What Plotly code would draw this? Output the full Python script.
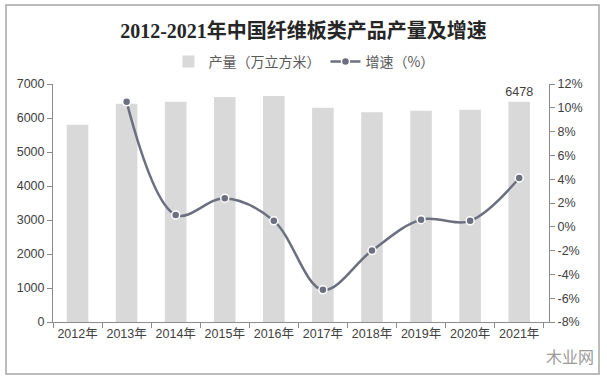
import plotly.graph_objects as go

years = ["2012年", "2013年", "2014年", "2015年", "2016年", "2017年", "2018年", "2019年", "2020年", "2021年"]
output = [5800, 6420, 6480, 6620, 6650, 6300, 6170, 6210, 6240, 6478]
growth_years = years[1:]
growth = [10.5, 1.0, 2.4, 0.5, -5.3, -2.0, 0.6, 0.5, 4.1]
left_ticks = [0, 1000, 2000, 3000, 4000, 5000, 6000, 7000]
right_ticks = [-8, -6, -4, -2, 0, 2, 4, 6, 8, 10, 12]

labels = ["" for _ in output]
labels[-1] = str(output[-1])

tick_font = dict(family="Liberation Sans, Arial, Noto Sans CJK SC", size=12.5, color="#404040")
axis_color = "#8c8c8c"

fig = go.Figure()
fig.add_trace(go.Bar(
    x=years, y=output, name="产量（万立方米）",
    marker=dict(color="#d9d9d9", line=dict(width=0)),
    width=0.44,
    text=labels, textposition="outside", cliponaxis=False, constraintext="none",
    textfont=dict(family="Liberation Sans, Arial", size=12.5, color="#404040"),
    outsidetextfont=dict(family="Liberation Sans, Arial", size=12.5, color="#404040"),
    yaxis="y",
))
fig.add_trace(go.Scatter(
    x=growth_years, y=growth, name="增速（%）",
    mode="lines+markers",
    line=dict(color="#6b6f80", width=2.5, shape="spline", smoothing=1.0),
    marker=dict(size=8, color="#6b6f80", line=dict(color="white", width=1.5)),
    yaxis="y2", cliponaxis=False,
))

fig.update_layout(
    width=607, height=379,
    margin=dict(l=53, r=58, t=84, b=57, autoexpand=False),
    paper_bgcolor="white", plot_bgcolor="white",
    title=dict(
        text="<b>2012-2021年中国纤维板类产品产量及增速</b>",
        x=0.5, xanchor="center", y=1 - 31 / 379, yanchor="middle",
        font=dict(family="Liberation Serif, DejaVu Serif, Noto Sans CJK SC", size=20, color="#262626"),
    ),
    showlegend=True,
    legend=dict(
        orientation="h", x=0.506, xanchor="center", y=(322 - 62) / 238, yanchor="middle",
        font=dict(family="Noto Sans CJK SC, Liberation Sans", size=14, color="#595959"),
        bgcolor="rgba(0,0,0,0)", itemwidth=30, traceorder="normal",
    ),
    xaxis=dict(
        type="category", showgrid=False, showline=True, linecolor=axis_color, linewidth=1,
        ticks="outside", ticklen=5, tickcolor=axis_color, tickson="boundaries",
        tickfont=tick_font, tickangle=0, automargin=False,
    ),
    yaxis=dict(
        range=[0, 7000], tickvals=left_ticks, showgrid=False, zeroline=False,
        showline=True, linecolor=axis_color, linewidth=1, automargin=False,
        ticks="outside", ticklen=5, tickcolor=axis_color, tickfont=tick_font,
    ),
    yaxis2=dict(
        range=[-8, 12], tickvals=right_ticks, ticktext=[f"{v}%" for v in right_ticks],
        overlaying="y", side="right", showgrid=False, zeroline=False,
        showline=True, linecolor=axis_color, linewidth=1, automargin=False,
        ticks="outside", ticklen=5, tickcolor=axis_color, tickfont=tick_font,
    ),
    bargap=0.5,
    shapes=[dict(
        type="rect", xref="paper", yref="paper",
        x0=(6 - 53) / 496, x1=(599 - 53) / 496,
        y0=(322 - 374) / 238, y1=(322 - 5) / 238,
        line=dict(color="#a6a6a6", width=1.5), fillcolor="rgba(0,0,0,0)", layer="above",
    )],
    annotations=[dict(
        text="木业网", xref="paper", yref="paper",
        x=(570 - 53) / 496, y=(322 - 356) / 238, xanchor="center", yanchor="middle",
        showarrow=False, font=dict(family="Noto Sans CJK SC", size=16, color="#9a9a9a"),
    )],
)

fig.write_html(
    "out.html",
    config={"displayModeBar": False},
    post_script="document.body.style.margin='0';document.body.style.overflow='hidden';",
)
